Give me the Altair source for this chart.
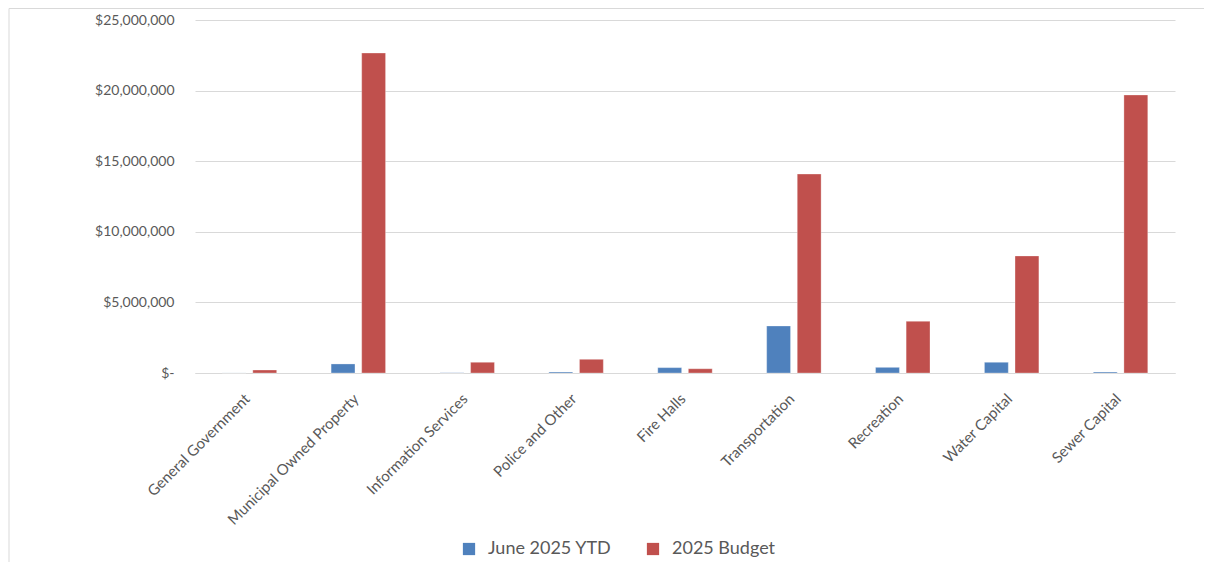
import altair as alt
import pandas as pd

categories = ["General Government", "Municipal Owned Property", "Information Services",
              "Police and Other", "Fire Halls", "Transportation", "Recreation",
              "Water Capital", "Sewer Capital"]
series = ["June 2025 YTD", "2025 Budget"]
ytd = [5000, 640000, 20000, 70000, 380000, 3330000, 400000, 760000, 70000]
budget = [210000, 22660000, 760000, 970000, 300000, 14090000, 3660000, 8290000, 19690000]
colors = ["#4F81BD", "#C0504D"]
y_ticks = [0, 5000000, 10000000, 15000000, 20000000, 25000000]

rows = []
for c, a, b in zip(categories, ytd, budget):
    rows.append({"Category": c, "Series": series[0], "Value": a})
    rows.append({"Category": c, "Series": series[1], "Value": b})
df = pd.DataFrame(rows)

FONT = "Lato"
GRAY = "#595959"

bars = alt.Chart(df).mark_bar(stroke="white", strokeWidth=0.5, strokeOpacity=0.6).encode(
    x=alt.X("Category:N", sort=categories,
            scale=alt.Scale(paddingInner=0.5, paddingOuter=0.25),
            axis=alt.Axis(title=None, labelAngle=-45, labelFontSize=15, labelColor=GRAY,
                          labelFont=FONT, ticks=False, domainColor="#d9d9d9", grid=False,
                          labelAlign="right", labelBaseline="top", labelOffset=-7,
                          labelPadding=18, labelLimit=300)),
    xOffset=alt.XOffset("Series:N", sort=series, scale=alt.Scale(paddingInner=0.22)),
    y=alt.Y("Value:Q", scale=alt.Scale(domain=[0, 25000000], nice=False),
            axis=alt.Axis(title=None, values=y_ticks, ticks=False, domain=False,
                          gridColor="#d9d9d9", labelFontSize=14, labelColor=GRAY,
                          labelFont=FONT, labelPadding=21,
                          labelExpr="datum.value == 0 ? '$-' : '$' + format(datum.value, ',.0f')")),
    color=alt.Color("Series:N", sort=series,
                    scale=alt.Scale(domain=series, range=colors),
                    legend=alt.Legend(title=None, orient="none", legendX=265, legendY=520,
                                      direction="horizontal", symbolType="square",
                                      symbolSize=150, symbolStrokeWidth=0,
                                      labelFontSize=18, labelColor=GRAY, labelFont=FONT,
                                      labelOffset=10, columnPadding=32)),
)

border = alt.Chart(pd.DataFrame({"a": [0]})).mark_rect(
    fill="transparent", stroke="#d9d9d9", strokeWidth=1
).encode(x=alt.value(-186), x2=alt.value(1040), y=alt.value(-11.5), y2=alt.value(580))

chart = alt.layer(border, bars).properties(
    width=980, height=353,
    background="white",
    autosize=alt.AutoSizeParams(type="none"),
    padding={"left": 187, "top": 12, "right": 29, "bottom": 189},
).configure_view(strokeWidth=0)

chart.save("out.html", embed_options={"renderer": "svg", "actions": False})
